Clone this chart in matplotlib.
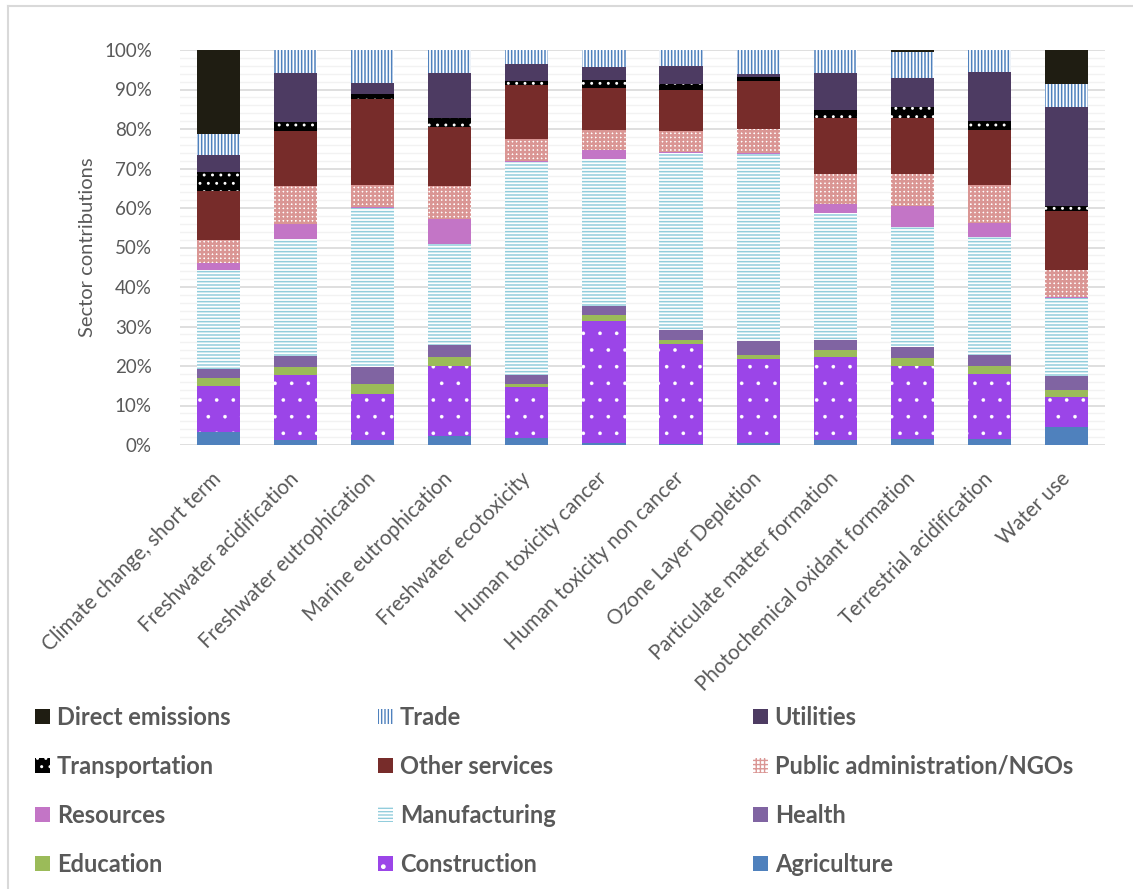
import numpy as np
import matplotlib.pyplot as plt
from matplotlib.lines import Line2D
from matplotlib.ticker import MultipleLocator, PercentFormatter

categories = ['Climate change, short term', 'Freshwater acidification', 'Freshwater eutrophication',
              'Marine eutrophication', 'Freshwater ecotoxicity', 'Human toxicity cancer',
              'Human toxicity non cancer', 'Ozone Layer Depletion', 'Particulate matter formation',
              'Photochemical oxidant formation', 'Terrestrial acidification', 'Water use']

# sector shares (%) per impact category, bottom of stack first
agriculture = [3.2, 1.3, 1.3, 2.4, 1.7, 0.5, 0.3, 0.5, 1.3, 1.5, 1.5, 4.6]
construction = [11.8, 16.5, 11.6, 17.7, 12.9, 31.0, 25.3, 21.3, 20.9, 18.4, 16.5, 7.5]
education = [1.9, 1.9, 2.6, 2.3, 0.9, 1.3, 1.1, 1.1, 1.9, 2.1, 1.9, 1.9]
health = [2.4, 2.8, 4.2, 3.0, 2.1, 2.5, 2.3, 3.4, 2.6, 2.8, 2.9, 3.4]
manufacturing = [24.9, 29.7, 40.4, 25.6, 54.1, 37.1, 44.8, 47.3, 32.0, 30.4, 29.9, 19.9]
resources = [1.9, 3.8, 0.1, 6.1, 0.2, 2.2, 0.3, 0.4, 2.4, 5.2, 3.5, 0.1]
public_admin = [5.7, 9.6, 5.6, 8.5, 5.5, 5.1, 5.4, 6.1, 7.6, 8.1, 9.6, 7.0]
other_services = [12.4, 13.9, 21.8, 14.8, 13.7, 10.7, 10.3, 12.0, 14.2, 14.3, 13.9, 14.8]
transportation = [4.9, 2.3, 1.2, 2.5, 1.1, 2.0, 1.6, 1.1, 1.9, 2.7, 2.3, 1.2]
utilities = [4.3, 12.5, 2.9, 11.2, 4.2, 3.4, 4.5, 0.7, 9.4, 7.5, 12.5, 25.1]
trade = [5.3, 5.7, 8.3, 5.9, 3.6, 4.2, 4.1, 6.1, 5.8, 6.6, 5.5, 5.8]
direct_emissions = [21.3, 0, 0, 0, 0, 0, 0, 0, 0, 0.4, 0, 8.7]

# name, values, face, hatch colour, hatch, hatch linewidth
sectors = [
    ('Agriculture', agriculture, '#4F81BD', '#4F81BD', None, 1.0),
    ('Construction', construction, '#9B45E8', 'white', '.', 0.2),
    ('Education', education, '#9BBB59', '#9BBB59', None, 1.0),
    ('Health', health, '#8064A2', '#8064A2', None, 1.0),
    ('Manufacturing', manufacturing, 'white', '#92CDDC', '-----', 1.1),
    ('Resources', resources, '#C375C6', '#C375C6', None, 1.0),
    ('Public administration/NGOs', public_admin, 'white', '#DA9694', '++++', 1.8),
    ('Other services', other_services, '#772C2A', '#772C2A', None, 1.0),
    ('Transportation', transportation, 'black', 'white', '..', 0.9),
    ('Utilities', utilities, '#4D3B62', '#4D3B62', None, 1.0),
    ('Trade', trade, 'white', '#4F81BD', '|||||', 1.1),
    ('Direct emissions', direct_emissions, '#1F1D12', '#1F1D12', None, 1.0),
]

grey = '#595959'
plt.rcParams['font.family'] = ['Lato', 'DejaVu Sans']

fig = plt.figure(figsize=(11.33, 8.89), dpi=100)
ax = fig.add_axes([179.7 / 1133, 1 - 445 / 889, 925.6 / 1133, 395 / 889])

x = np.arange(len(categories))
bottom = np.zeros(len(categories))
handles = {}
for name, vals, face, hcol, hatch, hlw in sectors:
    vals = np.array(vals)
    with plt.rc_context({'hatch.linewidth': hlw}):
        b = ax.bar(x, vals, 0.56, bottom=bottom, color=face, edgecolor=hcol,
                   hatch=hatch, linewidth=0, label=name, zorder=3)
    handles[name] = b
    bottom += vals

ax.set_xlim(-0.5, len(categories) - 0.5)
ax.set_ylim(0, 100)
ax.yaxis.set_major_locator(MultipleLocator(10))
ax.yaxis.set_minor_locator(MultipleLocator(2))
ax.yaxis.set_major_formatter(PercentFormatter(decimals=0))
ax.grid(axis='y', which='major', color='#D9D9D9', lw=1.2, zorder=0)
ax.grid(axis='y', which='minor', color='#F2F2F2', lw=1.0, zorder=0)
for s in ax.spines.values():
    s.set_visible(False)
ax.tick_params(axis='both', which='both', length=0, colors=grey)
ax.tick_params(axis='y', pad=20, labelsize=13.5)
ax.set_xticks(x)
ax.set_xticklabels(categories, rotation=45, ha='right', va='center', rotation_mode='anchor',
                   fontsize=14.8)
ax.tick_params(axis='x', pad=22)
ax.set_ylabel('Sector contributions', fontsize=14.5, color=grey, labelpad=6)

# legend, three columns read row by row from top of stack
order = [s[0] for s in sectors][::-1]
col_x = [35, 378, 753]
for j in range(3):
    names = order[j::3]
    fig.legend([handles[n] for n in names], names, loc='upper left',
               bbox_to_anchor=(col_x[j] / 1133 - 0.010, 1 - 694 / 889), frameon=False,
               prop={'weight': 'bold', 'size': 17}, labelcolor=grey,
               handlelength=0.62, handleheight=0.62, handletextpad=0.28,
               labelspacing=1.1, borderpad=0)

# chart area border
fig.add_artist(Line2D([8 / 1133, 8 / 1133], [0, 1 - 6 / 889], color='#D9D9D9', lw=1.5))
fig.add_artist(Line2D([8 / 1133, 1], [1 - 6 / 889, 1 - 6 / 889], color='#D9D9D9', lw=1.5))

fig.savefig('out.png', dpi=100)
